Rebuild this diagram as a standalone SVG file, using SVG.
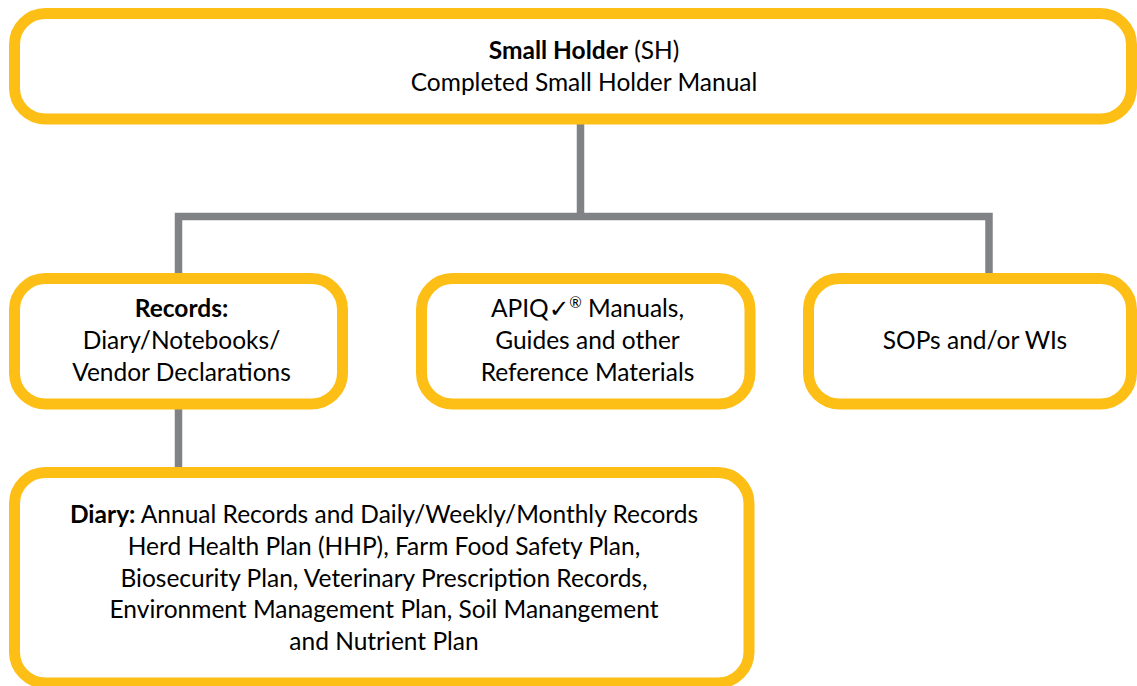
<svg xmlns="http://www.w3.org/2000/svg" width="1137" height="686" viewBox="0 0 1137 686">
<style>
.box{fill:#fff;stroke:#FDBE16;stroke-width:11}
.con{fill:none;stroke:#818285;stroke-width:7.5}
text{font-family:Lato,"Open Sans","Liberation Sans",sans-serif;font-size:24.5px;fill:#000;text-anchor:middle}
.b{font-weight:bold}
</style>
<rect width="1137" height="686" fill="#fff"/>
<g id="connectors">
<path class="con" d="M580.5 119 V216.5"/>
<path class="con" d="M178.5 280 V216.5 H989 V280"/>
<path class="con" d="M178.5 404 V472"/>
</g>
<g id="node-sh">
<rect class="box" x="14.5" y="13.5" width="1117" height="105.5" rx="31"/>
<text x="584" y="59"><tspan class="b">Small Holder</tspan> (SH)</text>
<text x="584" y="91">Completed Small Holder Manual</text>
</g>
<g id="node-records">
<rect class="box" x="14.5" y="278.5" width="328" height="125.5" rx="31"/>
<text x="181.5" y="317" class="b">Records:</text>
<text x="181.5" y="349">Diary/Notebooks/</text>
<text x="181.5" y="381">Vendor Declarations</text>
</g>
<g id="node-apiq">
<rect class="box" x="421.5" y="278.5" width="328.5" height="125.5" rx="31"/>
<text x="587.5" y="317">APIQ<tspan font-family="DejaVu Sans">✓</tspan><tspan font-size="15" dy="-9">®</tspan><tspan dy="9"> Manuals,</tspan></text>
<text x="587.5" y="349">Guides and other</text>
<text x="587.5" y="381">Reference Materials</text>
</g>
<g id="node-sops">
<rect class="box" x="808.5" y="278.5" width="323" height="125.5" rx="31"/>
<text x="975" y="349">SOPs and/or WIs</text>
</g>
<g id="node-diary">
<rect class="box" x="14.5" y="472.5" width="734.5" height="210.5" rx="31"/>
<text x="384" y="523"><tspan class="b">Diary:</tspan> Annual Records and Daily/Weekly/Monthly Records</text>
<text x="384" y="555">Herd Health Plan (HHP), Farm Food Safety Plan,</text>
<text x="384" y="587">Biosecurity Plan, Veterinary Prescription Records,</text>
<text x="384" y="618">Environment Management Plan, Soil Manangement</text>
<text x="384" y="650">and Nutrient Plan</text>
</g>
</svg>
